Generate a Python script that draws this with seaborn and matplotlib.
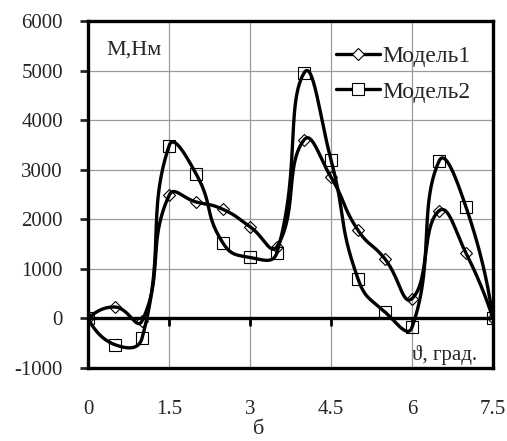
import numpy as np
import pandas as pd
import matplotlib
matplotlib.use("Agg")
import matplotlib.pyplot as plt
import seaborn as sns
from matplotlib.lines import Line2D

# angle, degrees
angle = [0, 0.5, 1.0, 1.5, 2.0, 2.5, 3.0, 3.5, 4.0, 4.5, 5.0, 5.5, 6.0, 6.5, 7.0, 7.5]
# torque, N*m
model1 = [0, 230, -50, 2480, 2350, 2200, 1850, 1450, 3600, 2850, 1780, 1200, 400, 2170, 1320, 0]
model2 = [0, -530, -400, 3480, 2920, 1520, 1230, 1330, 4950, 3200, 800, 130, -180, 3170, 2250, 0]
series_names = ["Модель1", "Модель2"]
x_ticks = [0, 1.5, 3, 4.5, 6, 7.5]
y_ticks = [-1000, 0, 1000, 2000, 3000, 4000, 5000, 6000]


def smooth(xs, ys, sx=54.0, sy=0.0496, f=0.5, n=30):
    # excel-like smoothed line: bezier segments, tangents scaled by on-screen
    # distances between neighbouring points
    p = np.column_stack([np.asarray(xs, float) * sx, np.asarray(ys, float) * sy])
    m = len(p)
    d = np.linalg.norm(np.diff(p, axis=0), axis=1)
    after = np.zeros_like(p)
    before = np.zeros_like(p)
    for i in range(1, m - 1):
        tan = p[i + 1] - p[i - 1]
        s = d[i - 1] + d[i]
        before[i] = -tan * d[i - 1] / s * f
        after[i] = tan * d[i] / s * f
    # end points: aim at the next control point
    after[0] = (p[1] + before[1] - p[0]) / 3
    before[-1] = (p[-2] + after[-2] - p[-1]) / 3
    t = np.linspace(0, 1, n)[:, None]
    out = []
    for i in range(m - 1):
        p1, p2 = p[i], p[i + 1]
        c1, c2 = p1 + after[i], p2 + before[i + 1]
        out.append((1 - t) ** 3 * p1 + 3 * (1 - t) ** 2 * t * c1
                   + 3 * (1 - t) * t ** 2 * c2 + t ** 3 * p2)
    out = np.vstack(out)
    return out[:, 0] / sx, out[:, 1] / sy


sns.set_style("white")
plt.rcParams["font.family"] = ["Liberation Serif", "DejaVu Serif"]
plt.rcParams["axes.unicode_minus"] = False

fig = plt.figure(figsize=(5.07, 4.41), dpi=100)
ax = fig.add_axes([0.1736, 0.1655, 0.7987, 0.7869])

ax.grid(True, color="#9a9a9a", linewidth=0.9)
ax.set_axisbelow(True)

markers = ["D", "s"]
msizes = [6.5, 9]
for name, vals, mk, ms in zip(series_names, [model1, model2], markers, msizes):
    sx, sy = smooth(angle, vals)
    sns.lineplot(x=sx, y=sy, ax=ax, color="black", linewidth=2.4, sort=False,
                 estimator=None, zorder=3)
    ax.plot(angle, vals, linestyle="none", marker=mk, markersize=ms,
            markerfacecolor="none", markeredgecolor="black", markeredgewidth=0.8, zorder=4)

# zero axis with its tick marks
ax.axhline(0, color="black", linewidth=2.4, zorder=2)
for xt in x_ticks[1:-1]:
    ax.plot([xt, xt], [0, -140], color="black", linewidth=2, zorder=2)

ax.set_xlim(0, 7.5)
ax.set_ylim(-1000, 6000)
ax.set_xticks(x_ticks)
ax.set_xticklabels(["0", "1.5", "3", "4.5", "6", "7.5"])
ax.set_yticks(y_ticks)
ax.tick_params(axis="x", length=0, pad=23, labelsize=15)
ax.tick_params(axis="y", length=6, width=2, pad=12, labelsize=15, left=True, direction="out")
for sp in ax.spines.values():
    sp.set_visible(True)
    sp.set_color("black")
    sp.set_linewidth(2.4)

ax.text(0.045, 0.945, "М,Нм", transform=ax.transAxes, fontsize=16, va="top", ha="left")
ax.text(6.0, -730, "ϑ, град.", fontsize=15, va="center", ha="left")
fig.text(0.51, 0.025, "б", fontsize=16, ha="center", va="center")

handles = [Line2D([], [], color="black", linewidth=2.4, marker=mk, markersize=ms,
                  markerfacecolor="white", markeredgecolor="black", markeredgewidth=0.8)
           for mk, ms in zip(markers, [6, 8])]
ax.legend(handles, series_names, loc="upper right", bbox_to_anchor=(0.946, 0.93),
          frameon=False, fontsize=17, handlelength=1.9, handletextpad=0.1,
          labelspacing=0.6, borderaxespad=0, borderpad=0)

fig.savefig("out.png", dpi=100)
